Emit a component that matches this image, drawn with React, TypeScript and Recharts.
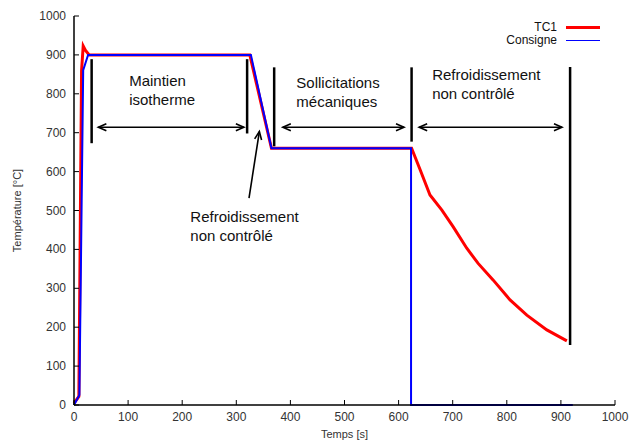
import React from "react";
import {
  LineChart,
  Line,
  XAxis,
  YAxis,
  Legend,
  ReferenceLine,
  ReferenceDot,
} from "recharts";

// measured curves: [temps s, température °C]
const tc1Points = [
  [0, 5], [7, 18], [9, 22], [14, 860], [17, 923], [21, 912], [28, 900],
  [325, 900], [365, 660], [624, 660], [640, 604], [658, 540], [680, 501],
  [701, 458], [726, 403], [747, 364], [775, 321], [806, 270], [837, 231],
  [874, 193], [911, 165],
];
const consignePoints = [
  [0, 0], [10, 26], [17, 861], [26, 900], [327, 900], [365, 660],
  [623, 660], [623, 0], [922, 0],
];

const xTicks = [0, 100, 200, 300, 400, 500, 600, 700, 800, 900, 1000];
const yTicks = [0, 100, 200, 300, 400, 500, 600, 700, 800, 900, 1000];

// annotations (data coordinates)
const phaseBars = [
  { x: 32.6, from: 889, to: 673 },
  { x: 320, from: 889, to: 698 },
  { x: 370, from: 868, to: 665 },
  { x: 624, from: 868, to: 677 },
  { x: 917, from: 869, to: 154 },
];
const phaseArrows = [
  { from: 45, to: 314, y: 714 },
  { from: 386, to: 610, y: 714 },
  { from: 638, to: 902, y: 714 },
];
const phaseLabels = [
  { x: 102, y: 835, lines: ["Maintien", "isotherme"] },
  { x: 411, y: 831, lines: ["Sollicitations", "mécaniques"] },
  { x: 662, y: 851, lines: ["Refroidissement", "non contrôlé"] },
  { x: 215, y: 486, lines: ["Refroidissement", "non contrôlé"] },
];

const tc1 = tc1Points.map(([t, v]) => ({ t, v }));
const consigne = consignePoints.map(([t, v]) => ({ t, v }));

const TICK_LEN = 5;
const labelColor = "#333";

const LeftTick = ({ x, y, payload }: any) => (
  <g>
    <line x1={x} y1={y} x2={x + TICK_LEN} y2={y} stroke="#000" />
    <text x={x - 8} y={y} textAnchor="end" dominantBaseline="central" fontSize={12} fill={labelColor}>
      {payload.value}
    </text>
  </g>
);
const BottomTick = ({ x, y, payload }: any) => (
  <g>
    <line x1={x} y1={y} x2={x} y2={y - TICK_LEN} stroke="#000" />
    <text x={x} y={y + 12} textAnchor="middle" dominantBaseline="central" fontSize={12} fill={labelColor}>
      {payload.value}
    </text>
  </g>
);
const TopTick = ({ x, y }: any) => <line x1={x} y1={y} x2={x} y2={y + TICK_LEN} stroke="#000" />;
const RightTick = ({ x, y }: any) => <line x1={x} y1={y} x2={x - TICK_LEN} y2={y} stroke="#000" />;

const arrowHead = (tx: number, ty: number, dx: number, dy: number) => {
  const len = Math.hypot(dx, dy);
  const ux = dx / len;
  const uy = dy / len;
  const L = 8;
  const W = 3.5;
  const bx = tx - ux * L;
  const by = ty - uy * L;
  return (
    <polyline
      points={`${bx - uy * W},${by + ux * W} ${tx},${ty} ${bx + uy * W},${by - ux * W}`}
      fill="none"
      stroke="#000"
      strokeWidth={1.6}
    />
  );
};

const doubleArrow = (props: any) => {
  const { x1, y1, x2, y2 } = props;
  return (
    <g>
      <line x1={x1} y1={y1} x2={x2} y2={y2} stroke="#000" strokeWidth={1.6} />
      {arrowHead(x1, y1, x1 - x2, y1 - y2)}
      {arrowHead(x2, y2, x2 - x1, y2 - y1)}
    </g>
  );
};

const singleArrow = (props: any) => {
  const { x1, y1, x2, y2 } = props;
  return (
    <g>
      <line x1={x1} y1={y1} x2={x2} y2={y2} stroke="#000" strokeWidth={1.6} />
      {arrowHead(x2, y2, x2 - x1, y2 - y1)}
    </g>
  );
};

const textBlock = (lines: string[]) => (props: any) => {
  const { cx, cy } = props;
  return (
    <text x={cx} y={cy} fontSize={15} fill="#111" dominantBaseline="central">
      {lines.map((l, i) => (
        <tspan key={i} x={cx} y={cy + i * 19}>
          {l}
        </tspan>
      ))}
    </text>
  );
};

const LegendBox = () => (
  <div style={{ fontSize: 12, color: "#111", lineHeight: "13px" }}>
    {[
      { name: "TC1", color: "#ff0000", w: 3 },
      { name: "Consigne", color: "#0000ff", w: 1.5 },
    ].map((s) => (
      <div key={s.name} style={{ display: "flex", justifyContent: "flex-end", alignItems: "center", height: 13 }}>
        <span>{s.name}</span>
        <span style={{ display: "inline-block", width: 34, height: s.w, background: s.color, marginLeft: 9 }} />
      </div>
    ))}
  </div>
);

export default function App() {
  return (
    <div
      style={{
        position: "absolute",
        left: 0,
        top: 0,
        width: 629,
        height: 441,
        background: "#fff",
        fontFamily: "Arial, 'Liberation Sans', sans-serif",
      }}
    >
      <LineChart width={629} height={441} margin={{ top: 16, right: 14, bottom: 6, left: 4 }}>
        <XAxis
          dataKey="t"
          type="number"
          domain={[0, 1000]}
          ticks={xTicks}
          interval={0}
          height={30}
          tickSize={0}
          tickMargin={0}
          tickLine={false}
          tick={<BottomTick />}
          axisLine={{ stroke: "#000", strokeWidth: 1.5 }}
          label={{
            content: (p: any) => {
              const { x, y, width } = p.viewBox;
              return (
                <text x={x + width / 2} y={y + 29} textAnchor="middle" dominantBaseline="central" fontSize={11} fill={labelColor}>
                  Temps [s]
                </text>
              );
            },
          }}
        />
        <XAxis
          xAxisId="top"
          orientation="top"
          type="number"
          domain={[0, 1000]}
          ticks={xTicks}
          interval={0}
          height={0}
          tickSize={0}
          tickMargin={0}
          tickLine={false}
          tick={<TopTick />}
          axisLine={{ stroke: "#000", strokeWidth: 1.5 }}
        />
        <YAxis
          type="number"
          domain={[0, 1000]}
          ticks={yTicks}
          interval={0}
          width={70}
          tickSize={0}
          tickMargin={0}
          tickLine={false}
          tick={<LeftTick />}
          axisLine={{ stroke: "#000", strokeWidth: 1.5 }}
          label={{
            content: (p: any) => {
              const { x, y, height } = p.viewBox;
              const cx = x + 13;
              const cy = y + height / 2;
              return (
                <text x={cx} y={cy} transform={`rotate(-90, ${cx}, ${cy})`} textAnchor="middle" dominantBaseline="central" fontSize={11} fill={labelColor}>
                  Température [°C]
                </text>
              );
            },
          }}
        />
        <YAxis
          yAxisId="right"
          orientation="right"
          type="number"
          domain={[0, 1000]}
          ticks={yTicks}
          interval={0}
          width={0}
          tickSize={0}
          tickMargin={0}
          tickLine={false}
          tick={<RightTick />}
          axisLine={{ stroke: "#000", strokeWidth: 1.5 }}
        />
        <Legend
          layout="horizontal"
          verticalAlign="middle"
          align="center"
          content={<LegendBox />}
          wrapperStyle={{ position: "absolute", left: 450, top: 21, width: 150, height: 26 }}
        />
        <Line data={tc1} dataKey="v" name="TC1" type="linear" stroke="#ff0000" strokeWidth={3} dot={false} isAnimationActive={false} />
        <Line data={consigne} dataKey="v" name="Consigne" type="linear" stroke="#0000ff" strokeWidth={2} dot={false} isAnimationActive={false} />
        {phaseBars.map((b, i) => (
          <ReferenceLine key={`bar-${i}`} segment={[{ x: b.x, y: b.from }, { x: b.x, y: b.to }]} stroke="#000" strokeWidth={2.5} />
        ))}
        {phaseArrows.map((a, i) => (
          <ReferenceLine key={`arr-${i}`} segment={[{ x: a.from, y: a.y }, { x: a.to, y: a.y }]} shape={doubleArrow} />
        ))}
        <ReferenceLine segment={[{ x: 323.5, y: 532 }, { x: 342.6, y: 703 }]} shape={singleArrow} />
        {phaseLabels.map((l, i) => (
          <ReferenceDot key={`lbl-${i}`} x={l.x} y={l.y} r={0} shape={textBlock(l.lines)} />
        ))}
      </LineChart>
    </div>
  );
}
